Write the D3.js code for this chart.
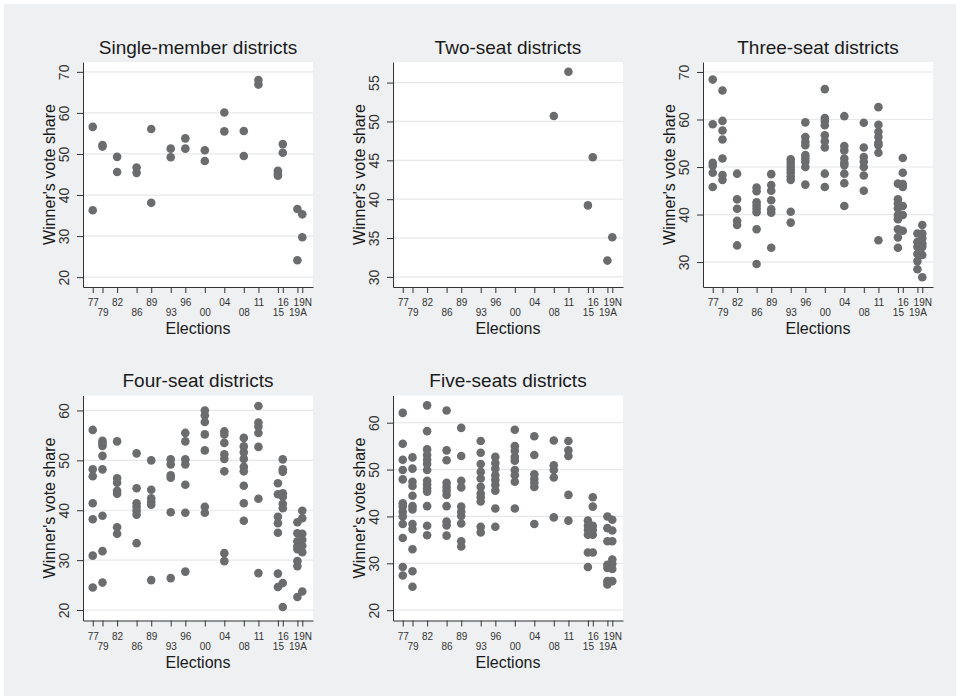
<!DOCTYPE html>
<html>
<head>
<meta charset="utf-8">
<script src="https://cdn.jsdelivr.net/npm/d3@7"></script>
<style>
  body { margin: 0; background: #ffffff; }
  svg { display: block; font-family: "Liberation Sans", Arial, sans-serif; }
</style>
</head>
<body>
<script>
// Election labels and the year each one sits at on the x axis
var electionLabels = ["77", "79", "82", "86", "89", "93", "96", "00", "04", "08", "11", "15", "16", "19A", "19N"];
var electionYears = [1977, 1979, 1982, 1986, 1989, 1993, 1996, 2000, 2004, 2008, 2011, 2015, 2016, 2019, 2020];

var panelTitles = ["Single-member districts", "Two-seat districts", "Three-seat districts",
                   "Four-seat districts", "Five-seats districts"];

// Winner's vote share per election (one list per election, same order as electionLabels)
var singleMember = [
  [56.6, 36.3], [52.2, 51.8], [49.3, 45.6], [46.7, 45.4], [56.1, 38.1],
  [51.3, 49.2], [53.8, 51.3], [50.9, 48.3], [60.1, 55.5], [55.6, 49.5],
  [68.0, 66.9], [45.9, 45.2, 44.7], [52.4, 50.3], [36.6, 24.1], [35.3, 29.7]
];
var twoSeat = [
  [], [], [], [], [], [], [], [], [], [50.7],
  [56.4], [39.2], [45.4], [32.1], [35.1]
];
var threeSeat = [
  [68.4, 59.0, 50.9, 50.3, 48.8, 45.8],
  [66.1, 59.7, 57.7, 55.8, 51.8, 48.3, 47.3],
  [48.6, 43.2, 41.2, 38.7, 37.8, 33.5],
  [45.7, 44.9, 42.6, 41.9, 41.2, 40.5, 36.9, 29.6],
  [48.5, 46.2, 45.0, 43.0, 41.1, 40.4, 33.0],
  [51.6, 50.9, 50.2, 49.5, 48.8, 48.0, 47.3, 40.6, 38.3],
  [59.4, 56.3, 55.3, 54.6, 52.5, 51.8, 51.1, 50.0, 46.3],
  [66.4, 60.3, 59.7, 58.8, 56.7, 55.4, 54.1, 48.6, 45.8],
  [60.7, 54.4, 53.5, 51.8, 50.9, 50.4, 48.6, 46.6, 41.8],
  [59.3, 54.1, 52.1, 51.1, 50.0, 48.2, 45.0],
  [62.6, 58.9, 57.4, 56.3, 55.1, 54.6, 53.0, 34.6],
  [46.5, 43.2, 42.3, 41.3, 39.9, 39.0, 36.9, 35.2, 33.0],
  [51.9, 48.8, 46.4, 45.8, 41.8, 39.9, 36.6],
  [36.0, 34.2, 33.2, 31.7, 30.2, 28.5],
  [37.8, 36.0, 35.0, 33.9, 33.2, 31.5, 26.8]
];
var fourSeat = [
  [56.1, 48.2, 46.8, 41.4, 38.2, 30.9, 24.5],
  [53.9, 53.4, 52.9, 50.9, 48.2, 38.9, 31.8, 25.5],
  [53.8, 46.4, 45.5, 43.9, 43.3, 36.6, 35.3],
  [51.4, 44.4, 41.4, 40.7, 39.9, 39.1, 33.4],
  [50.0, 44.1, 42.4, 41.7, 41.1, 26.0],
  [50.2, 49.2, 47.0, 46.5, 39.6, 26.4],
  [55.5, 53.8, 50.2, 49.2, 45.1, 39.5, 27.7],
  [60.0, 59.0, 57.7, 55.2, 52.0, 40.7, 39.5],
  [55.8, 55.2, 53.5, 51.2, 50.3, 47.8, 31.4, 29.8],
  [54.5, 52.8, 51.6, 50.3, 48.7, 47.8, 44.9, 41.4, 37.9],
  [60.9, 57.6, 56.8, 55.5, 52.7, 42.3, 27.4],
  [45.4, 43.2, 38.7, 37.4, 35.5, 27.3, 24.6],
  [50.2, 48.2, 47.7, 43.4, 42.7, 41.3, 40.4, 25.4, 20.6],
  [37.6, 35.4, 33.8, 32.8, 32.2, 29.8, 28.8, 22.6],
  [39.9, 38.4, 35.3, 34.1, 32.9, 31.6, 23.7]
];
var fiveSeat = [
  [62.1, 55.5, 52.1, 49.9, 47.9, 42.8, 42.1, 41.0, 40.0, 38.4, 35.4, 29.2, 27.4],
  [52.6, 50.2, 47.4, 46.5, 44.4, 42.2, 41.5, 38.4, 37.3, 33.0, 28.3, 25.0],
  [63.7, 58.2, 54.3, 53.1, 52.1, 51.2, 49.9, 47.6, 46.8, 46.0, 45.3, 42.2, 38.0, 36.0],
  [62.6, 54.1, 52.0, 47.2, 46.3, 45.5, 44.6, 42.2, 38.9, 38.1, 35.9],
  [58.9, 52.9, 47.6, 46.2, 42.1, 41.0, 40.1, 38.5, 34.7, 33.6],
  [56.1, 53.6, 51.2, 49.5, 48.1, 46.3, 44.9, 44.1, 43.2, 37.8, 36.6],
  [52.7, 51.4, 50.2, 48.8, 47.8, 46.7, 45.5, 41.7, 37.8],
  [58.5, 55.0, 54.0, 52.7, 51.9, 49.9, 48.8, 47.4, 41.7],
  [57.1, 53.1, 49.0, 48.0, 47.2, 46.3, 38.4],
  [56.2, 50.9, 49.9, 48.3, 39.8],
  [56.1, 54.1, 52.9, 44.6, 39.1],
  [39.1, 38.0, 37.1, 36.1, 32.3, 29.2],
  [44.1, 42.1, 38.0, 37.1, 36.1, 32.3],
  [40.0, 37.5, 34.7, 29.7, 29.0, 26.2, 25.5],
  [39.3, 37.0, 34.7, 30.8, 29.9, 28.8, 26.2]
];

// y tick labels and axis ranges for each panel
var singleTicks = [20, 30, 40, 50, 60, 70];
var twoTicks = [30, 35, 40, 45, 50, 55];
var threeTicks = [30, 40, 50, 60, 70];
var fourTicks = [20, 30, 40, 50, 60];
var fiveTicks = [20, 30, 40, 50, 60];
var yRanges = [[17.6, 72.4], [28.7, 57.65], [24.75, 72.1], [17.9, 63.0], [17.8, 65.8]];

var seriesList = [singleMember, twoSeat, threeSeat, fourSeat, fiveSeat];
var tickList = [singleTicks, twoTicks, threeTicks, fourTicks, fiveTicks];

var width = 960, height = 700;
var plotW = 230, plotH = 225;

var svg = d3.select("body").append("svg")
    .attr("width", width)
    .attr("height", height);

// outer graph region
svg.append("rect")
    .attr("x", 4).attr("y", 4)
    .attr("width", width - 8).attr("height", height - 8)
    .attr("fill", "#eef0f2");

var x = d3.scaleLinear().domain([1975, 2022.2]).range([0, plotW]);

seriesList.forEach(function(series, i) {
    var col = i % 3, row = Math.floor(i / 3);
    var left = 83 + col * 310;
    var top = 62 + row * 333.5;

    var y = d3.scaleLinear().domain(yRanges[i]).range([plotH, 0]);

    var g = svg.append("g")
        .attr("transform", "translate(" + left + "," + top + ")");

    g.append("rect")
        .attr("width", plotW).attr("height", plotH)
        .attr("fill", "#ffffff");

    // horizontal grid lines
    g.selectAll(".grid")
        .data(tickList[i])
        .enter()
        .append("line")
        .attr("x1", 0).attr("x2", plotW)
        .attr("y1", function(d) { return y(d); })
        .attr("y2", function(d) { return y(d); })
        .attr("stroke", "#e6e8ea")
        .attr("stroke-width", 1.2);

    // flatten the per-election lists into points
    var points = [];
    series.forEach(function(vals, k) {
        vals.forEach(function(v) {
            points.push({year: electionYears[k], value: v});
        });
    });

    g.selectAll("circle")
        .data(points)
        .enter()
        .append("circle")
        .attr("cx", function(d) { return x(d.year); })
        .attr("cy", function(d) { return y(d.value); })
        .attr("r", 4.3)
        .attr("fill", "#6b6c6e");

    // y axis with vertical tick labels
    var yAxisG = g.append("g")
        .call(d3.axisLeft(y).tickValues(tickList[i]).tickSize(6).tickSizeOuter(0));
    yAxisG.select(".domain").attr("stroke", "#333");
    yAxisG.selectAll(".tick line").attr("stroke", "#333");
    yAxisG.selectAll("text")
        .attr("x", 0).attr("y", 0).attr("dy", 0)
        .attr("transform", "translate(-14.5,0) rotate(-90)")
        .attr("text-anchor", "middle")
        .attr("font-size", "14px")
        .attr("font-family", "Liberation Sans, Arial, sans-serif")
        .attr("fill", "#333");

    // x axis, labels staggered on two rows
    var xAxisG = g.append("g")
        .attr("transform", "translate(0," + plotH + ")")
        .call(d3.axisBottom(x)
            .tickValues(electionYears)
            .tickFormat(function(d, k) { return electionLabels[k]; })
            .tickSize(6).tickPadding(6).tickSizeOuter(0));
    xAxisG.select(".domain").attr("stroke", "#333");
    xAxisG.selectAll(".tick line").attr("stroke", "#333");
    xAxisG.selectAll("text")
        .attr("y", function(d, k) { return k % 2 === 0 ? 12 : 22; })
        .attr("font-size", "10px")
        .attr("font-family", "Liberation Sans, Arial, sans-serif")
        .attr("fill", "#333");

    // panel title
    g.append("text")
        .text(panelTitles[i])
        .attr("x", plotW / 2)
        .attr("y", -8.5)
        .attr("text-anchor", "middle")
        .attr("font-size", "19px")
        .attr("fill", "#1a1a1a");

    // axis titles
    g.append("text")
        .text("Winner's vote share")
        .attr("transform", "translate(-28," + (plotH / 2) + ") rotate(-90)")
        .attr("text-anchor", "middle")
        .attr("font-size", "16px")
        .attr("fill", "#1a1a1a");

    g.append("text")
        .text("Elections")
        .attr("x", plotW / 2)
        .attr("y", plotH + 47)
        .attr("text-anchor", "middle")
        .attr("font-size", "16px")
        .attr("fill", "#1a1a1a");
});
</script>
</body>
</html>
